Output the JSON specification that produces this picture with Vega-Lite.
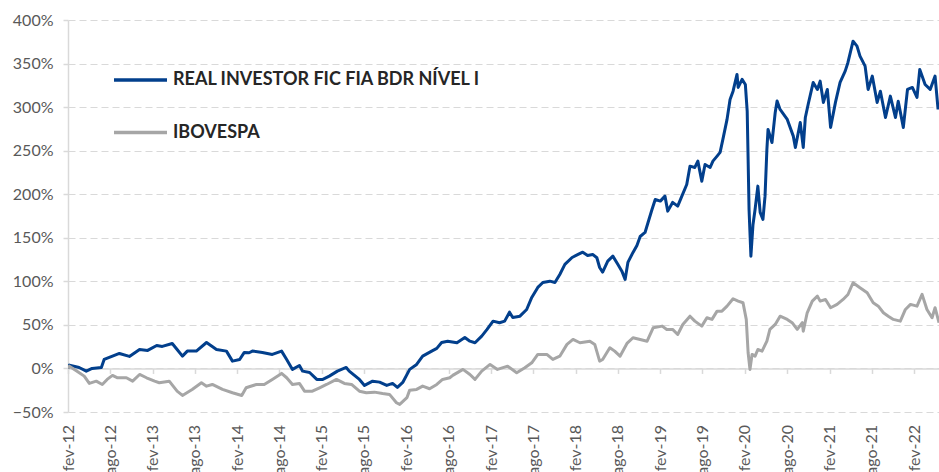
{
  "$schema": "https://vega.github.io/schema/vega-lite/v6.json",
  "width": 871,
  "height": 392,
  "autosize": "none",
  "padding": {"left": 68, "top": 20, "right": 0, "bottom": 60},
  "config": {"font": "Lato", "view": {"stroke": null}},
  "data": {"values": [
    {"d":"2012-02-01","s":"REAL INVESTOR FIC FIA BDR NÍVEL I","v":0},
    {"d":"2012-02-07","s":"REAL INVESTOR FIC FIA BDR NÍVEL I","v":0.038},
    {"d":"2012-03-20","s":"REAL INVESTOR FIC FIA BDR NÍVEL I","v":0.011},
    {"d":"2012-04-20","s":"REAL INVESTOR FIC FIA BDR NÍVEL I","v":-0.031},
    {"d":"2012-05-15","s":"REAL INVESTOR FIC FIA BDR NÍVEL I","v":0.0},
    {"d":"2012-06-24","s":"REAL INVESTOR FIC FIA BDR NÍVEL I","v":0.011},
    {"d":"2012-07-06","s":"REAL INVESTOR FIC FIA BDR NÍVEL I","v":0.103},
    {"d":"2012-08-11","s":"REAL INVESTOR FIC FIA BDR NÍVEL I","v":0.141},
    {"d":"2012-09-10","s":"REAL INVESTOR FIC FIA BDR NÍVEL I","v":0.172},
    {"d":"2012-10-23","s":"REAL INVESTOR FIC FIA BDR NÍVEL I","v":0.138},
    {"d":"2012-12-06","s":"REAL INVESTOR FIC FIA BDR NÍVEL I","v":0.218},
    {"d":"2013-01-10","s":"REAL INVESTOR FIC FIA BDR NÍVEL I","v":0.207},
    {"d":"2013-02-18","s":"REAL INVESTOR FIC FIA BDR NÍVEL I","v":0.264},
    {"d":"2013-03-14","s":"REAL INVESTOR FIC FIA BDR NÍVEL I","v":0.253},
    {"d":"2013-04-26","s":"REAL INVESTOR FIC FIA BDR NÍVEL I","v":0.287},
    {"d":"2013-05-17","s":"REAL INVESTOR FIC FIA BDR NÍVEL I","v":0.218},
    {"d":"2013-06-09","s":"REAL INVESTOR FIC FIA BDR NÍVEL I","v":0.141},
    {"d":"2013-06-30","s":"REAL INVESTOR FIC FIA BDR NÍVEL I","v":0.199},
    {"d":"2013-08-08","s":"REAL INVESTOR FIC FIA BDR NÍVEL I","v":0.199},
    {"d":"2013-09-21","s":"REAL INVESTOR FIC FIA BDR NÍVEL I","v":0.298},
    {"d":"2013-11-03","s":"REAL INVESTOR FIC FIA BDR NÍVEL I","v":0.218},
    {"d":"2013-12-16","s":"REAL INVESTOR FIC FIA BDR NÍVEL I","v":0.199},
    {"d":"2014-01-11","s":"REAL INVESTOR FIC FIA BDR NÍVEL I","v":0.084},
    {"d":"2014-02-11","s":"REAL INVESTOR FIC FIA BDR NÍVEL I","v":0.103},
    {"d":"2014-03-03","s":"REAL INVESTOR FIC FIA BDR NÍVEL I","v":0.184},
    {"d":"2014-03-24","s":"REAL INVESTOR FIC FIA BDR NÍVEL I","v":0.18},
    {"d":"2014-04-07","s":"REAL INVESTOR FIC FIA BDR NÍVEL I","v":0.199},
    {"d":"2014-05-20","s":"REAL INVESTOR FIC FIA BDR NÍVEL I","v":0.184},
    {"d":"2014-07-02","s":"REAL INVESTOR FIC FIA BDR NÍVEL I","v":0.161},
    {"d":"2014-08-11","s":"REAL INVESTOR FIC FIA BDR NÍVEL I","v":0.199},
    {"d":"2014-09-02","s":"REAL INVESTOR FIC FIA BDR NÍVEL I","v":0.103},
    {"d":"2014-09-27","s":"REAL INVESTOR FIC FIA BDR NÍVEL I","v":-0.011},
    {"d":"2014-10-27","s":"REAL INVESTOR FIC FIA BDR NÍVEL I","v":0.034},
    {"d":"2014-11-10","s":"REAL INVESTOR FIC FIA BDR NÍVEL I","v":-0.031},
    {"d":"2014-12-10","s":"REAL INVESTOR FIC FIA BDR NÍVEL I","v":-0.046},
    {"d":"2015-01-10","s":"REAL INVESTOR FIC FIA BDR NÍVEL I","v":-0.126},
    {"d":"2015-02-05","s":"REAL INVESTOR FIC FIA BDR NÍVEL I","v":-0.126},
    {"d":"2015-03-05","s":"REAL INVESTOR FIC FIA BDR NÍVEL I","v":-0.088},
    {"d":"2015-04-09","s":"REAL INVESTOR FIC FIA BDR NÍVEL I","v":-0.031},
    {"d":"2015-05-17","s":"REAL INVESTOR FIC FIA BDR NÍVEL I","v":0.011},
    {"d":"2015-05-30","s":"REAL INVESTOR FIC FIA BDR NÍVEL I","v":-0.031},
    {"d":"2015-07-13","s":"REAL INVESTOR FIC FIA BDR NÍVEL I","v":-0.126},
    {"d":"2015-08-04","s":"REAL INVESTOR FIC FIA BDR NÍVEL I","v":-0.195},
    {"d":"2015-09-08","s":"REAL INVESTOR FIC FIA BDR NÍVEL I","v":-0.146},
    {"d":"2015-10-08","s":"REAL INVESTOR FIC FIA BDR NÍVEL I","v":-0.157},
    {"d":"2015-11-08","s":"REAL INVESTOR FIC FIA BDR NÍVEL I","v":-0.195},
    {"d":"2015-12-03","s":"REAL INVESTOR FIC FIA BDR NÍVEL I","v":-0.172},
    {"d":"2015-12-24","s":"REAL INVESTOR FIC FIA BDR NÍVEL I","v":-0.218},
    {"d":"2016-01-16","s":"REAL INVESTOR FIC FIA BDR NÍVEL I","v":-0.161},
    {"d":"2016-02-15","s":"REAL INVESTOR FIC FIA BDR NÍVEL I","v":-0.011},
    {"d":"2016-03-16","s":"REAL INVESTOR FIC FIA BDR NÍVEL I","v":0.046},
    {"d":"2016-04-11","s":"REAL INVESTOR FIC FIA BDR NÍVEL I","v":0.141},
    {"d":"2016-05-20","s":"REAL INVESTOR FIC FIA BDR NÍVEL I","v":0.199},
    {"d":"2016-06-11","s":"REAL INVESTOR FIC FIA BDR NÍVEL I","v":0.23},
    {"d":"2016-07-02","s":"REAL INVESTOR FIC FIA BDR NÍVEL I","v":0.298},
    {"d":"2016-07-28","s":"REAL INVESTOR FIC FIA BDR NÍVEL I","v":0.313},
    {"d":"2016-09-06","s":"REAL INVESTOR FIC FIA BDR NÍVEL I","v":0.295},
    {"d":"2016-10-10","s":"REAL INVESTOR FIC FIA BDR NÍVEL I","v":0.356},
    {"d":"2016-11-01","s":"REAL INVESTOR FIC FIA BDR NÍVEL I","v":0.313},
    {"d":"2016-11-23","s":"REAL INVESTOR FIC FIA BDR NÍVEL I","v":0.295},
    {"d":"2016-12-22","s":"REAL INVESTOR FIC FIA BDR NÍVEL I","v":0.371},
    {"d":"2017-01-14","s":"REAL INVESTOR FIC FIA BDR NÍVEL I","v":0.448},
    {"d":"2017-02-09","s":"REAL INVESTOR FIC FIA BDR NÍVEL I","v":0.543},
    {"d":"2017-03-09","s":"REAL INVESTOR FIC FIA BDR NÍVEL I","v":0.525},
    {"d":"2017-03-31","s":"REAL INVESTOR FIC FIA BDR NÍVEL I","v":0.543},
    {"d":"2017-04-21","s":"REAL INVESTOR FIC FIA BDR NÍVEL I","v":0.646},
    {"d":"2017-05-05","s":"REAL INVESTOR FIC FIA BDR NÍVEL I","v":0.585},
    {"d":"2017-06-05","s":"REAL INVESTOR FIC FIA BDR NÍVEL I","v":0.6},
    {"d":"2017-07-04","s":"REAL INVESTOR FIC FIA BDR NÍVEL I","v":0.677},
    {"d":"2017-07-26","s":"REAL INVESTOR FIC FIA BDR NÍVEL I","v":0.815},
    {"d":"2017-08-21","s":"REAL INVESTOR FIC FIA BDR NÍVEL I","v":0.93},
    {"d":"2017-09-12","s":"REAL INVESTOR FIC FIA BDR NÍVEL I","v":0.987},
    {"d":"2017-10-12","s":"REAL INVESTOR FIC FIA BDR NÍVEL I","v":1.002},
    {"d":"2017-11-03","s":"REAL INVESTOR FIC FIA BDR NÍVEL I","v":0.987},
    {"d":"2017-11-24","s":"REAL INVESTOR FIC FIA BDR NÍVEL I","v":1.079},
    {"d":"2017-12-16","s":"REAL INVESTOR FIC FIA BDR NÍVEL I","v":1.194},
    {"d":"2018-01-16","s":"REAL INVESTOR FIC FIA BDR NÍVEL I","v":1.274},
    {"d":"2018-02-11","s":"REAL INVESTOR FIC FIA BDR NÍVEL I","v":1.309},
    {"d":"2018-03-03","s":"REAL INVESTOR FIC FIA BDR NÍVEL I","v":1.335},
    {"d":"2018-03-24","s":"REAL INVESTOR FIC FIA BDR NÍVEL I","v":1.297},
    {"d":"2018-04-15","s":"REAL INVESTOR FIC FIA BDR NÍVEL I","v":1.309},
    {"d":"2018-05-03","s":"REAL INVESTOR FIC FIA BDR NÍVEL I","v":1.271},
    {"d":"2018-05-15","s":"REAL INVESTOR FIC FIA BDR NÍVEL I","v":1.159},
    {"d":"2018-05-28","s":"REAL INVESTOR FIC FIA BDR NÍVEL I","v":1.106},
    {"d":"2018-06-19","s":"REAL INVESTOR FIC FIA BDR NÍVEL I","v":1.232},
    {"d":"2018-07-11","s":"REAL INVESTOR FIC FIA BDR NÍVEL I","v":1.289},
    {"d":"2018-08-02","s":"REAL INVESTOR FIC FIA BDR NÍVEL I","v":1.194},
    {"d":"2018-08-19","s":"REAL INVESTOR FIC FIA BDR NÍVEL I","v":1.117},
    {"d":"2018-09-02","s":"REAL INVESTOR FIC FIA BDR NÍVEL I","v":1.022},
    {"d":"2018-09-14","s":"REAL INVESTOR FIC FIA BDR NÍVEL I","v":1.217},
    {"d":"2018-10-06","s":"REAL INVESTOR FIC FIA BDR NÍVEL I","v":1.332},
    {"d":"2018-10-23","s":"REAL INVESTOR FIC FIA BDR NÍVEL I","v":1.412},
    {"d":"2018-11-06","s":"REAL INVESTOR FIC FIA BDR NÍVEL I","v":1.515},
    {"d":"2018-11-27","s":"REAL INVESTOR FIC FIA BDR NÍVEL I","v":1.561},
    {"d":"2018-12-10","s":"REAL INVESTOR FIC FIA BDR NÍVEL I","v":1.676},
    {"d":"2018-12-27","s":"REAL INVESTOR FIC FIA BDR NÍVEL I","v":1.825},
    {"d":"2019-01-10","s":"REAL INVESTOR FIC FIA BDR NÍVEL I","v":1.94},
    {"d":"2019-02-01","s":"REAL INVESTOR FIC FIA BDR NÍVEL I","v":1.921},
    {"d":"2019-02-21","s":"REAL INVESTOR FIC FIA BDR NÍVEL I","v":1.978},
    {"d":"2019-03-05","s":"REAL INVESTOR FIC FIA BDR NÍVEL I","v":1.806},
    {"d":"2019-03-26","s":"REAL INVESTOR FIC FIA BDR NÍVEL I","v":1.906},
    {"d":"2019-04-17","s":"REAL INVESTOR FIC FIA BDR NÍVEL I","v":1.863},
    {"d":"2019-05-05","s":"REAL INVESTOR FIC FIA BDR NÍVEL I","v":1.978},
    {"d":"2019-05-26","s":"REAL INVESTOR FIC FIA BDR NÍVEL I","v":2.112},
    {"d":"2019-06-09","s":"REAL INVESTOR FIC FIA BDR NÍVEL I","v":2.322},
    {"d":"2019-06-30","s":"REAL INVESTOR FIC FIA BDR NÍVEL I","v":2.307},
    {"d":"2019-07-13","s":"REAL INVESTOR FIC FIA BDR NÍVEL I","v":2.38},
    {"d":"2019-07-30","s":"REAL INVESTOR FIC FIA BDR NÍVEL I","v":2.15},
    {"d":"2019-08-13","s":"REAL INVESTOR FIC FIA BDR NÍVEL I","v":2.342},
    {"d":"2019-09-04","s":"REAL INVESTOR FIC FIA BDR NÍVEL I","v":2.307},
    {"d":"2019-09-16","s":"REAL INVESTOR FIC FIA BDR NÍVEL I","v":2.38},
    {"d":"2019-10-04","s":"REAL INVESTOR FIC FIA BDR NÍVEL I","v":2.437},
    {"d":"2019-10-17","s":"REAL INVESTOR FIC FIA BDR NÍVEL I","v":2.48},
    {"d":"2019-10-29","s":"REAL INVESTOR FIC FIA BDR NÍVEL I","v":2.629},
    {"d":"2019-11-16","s":"REAL INVESTOR FIC FIA BDR NÍVEL I","v":2.859},
    {"d":"2019-11-29","s":"REAL INVESTOR FIC FIA BDR NÍVEL I","v":3.088},
    {"d":"2019-12-12","s":"REAL INVESTOR FIC FIA BDR NÍVEL I","v":3.183},
    {"d":"2019-12-29","s":"REAL INVESTOR FIC FIA BDR NÍVEL I","v":3.375},
    {"d":"2020-01-03","s":"REAL INVESTOR FIC FIA BDR NÍVEL I","v":3.226},
    {"d":"2020-01-20","s":"REAL INVESTOR FIC FIA BDR NÍVEL I","v":3.318},
    {"d":"2020-02-03","s":"REAL INVESTOR FIC FIA BDR NÍVEL I","v":3.26},
    {"d":"2020-02-11","s":"REAL INVESTOR FIC FIA BDR NÍVEL I","v":2.954},
    {"d":"2020-02-15","s":"REAL INVESTOR FIC FIA BDR NÍVEL I","v":2.399},
    {"d":"2020-02-19","s":"REAL INVESTOR FIC FIA BDR NÍVEL I","v":1.825},
    {"d":"2020-02-27","s":"REAL INVESTOR FIC FIA BDR NÍVEL I","v":1.289},
    {"d":"2020-03-07","s":"REAL INVESTOR FIC FIA BDR NÍVEL I","v":1.65},
    {"d":"2020-03-16","s":"REAL INVESTOR FIC FIA BDR NÍVEL I","v":1.825},
    {"d":"2020-03-28","s":"REAL INVESTOR FIC FIA BDR NÍVEL I","v":2.093},
    {"d":"2020-04-07","s":"REAL INVESTOR FIC FIA BDR NÍVEL I","v":1.791},
    {"d":"2020-04-19","s":"REAL INVESTOR FIC FIA BDR NÍVEL I","v":1.711},
    {"d":"2020-04-28","s":"REAL INVESTOR FIC FIA BDR NÍVEL I","v":1.978},
    {"d":"2020-05-06","s":"REAL INVESTOR FIC FIA BDR NÍVEL I","v":2.514},
    {"d":"2020-05-11","s":"REAL INVESTOR FIC FIA BDR NÍVEL I","v":2.744},
    {"d":"2020-05-28","s":"REAL INVESTOR FIC FIA BDR NÍVEL I","v":2.594},
    {"d":"2020-06-11","s":"REAL INVESTOR FIC FIA BDR NÍVEL I","v":2.939},
    {"d":"2020-06-19","s":"REAL INVESTOR FIC FIA BDR NÍVEL I","v":3.069},
    {"d":"2020-07-02","s":"REAL INVESTOR FIC FIA BDR NÍVEL I","v":2.973},
    {"d":"2020-08-02","s":"REAL INVESTOR FIC FIA BDR NÍVEL I","v":2.859},
    {"d":"2020-08-28","s":"REAL INVESTOR FIC FIA BDR NÍVEL I","v":2.667},
    {"d":"2020-09-06","s":"REAL INVESTOR FIC FIA BDR NÍVEL I","v":2.537},
    {"d":"2020-09-27","s":"REAL INVESTOR FIC FIA BDR NÍVEL I","v":2.824},
    {"d":"2020-10-10","s":"REAL INVESTOR FIC FIA BDR NÍVEL I","v":2.537},
    {"d":"2020-10-19","s":"REAL INVESTOR FIC FIA BDR NÍVEL I","v":2.881},
    {"d":"2020-11-01","s":"REAL INVESTOR FIC FIA BDR NÍVEL I","v":3.042},
    {"d":"2020-11-22","s":"REAL INVESTOR FIC FIA BDR NÍVEL I","v":3.283},
    {"d":"2020-12-10","s":"REAL INVESTOR FIC FIA BDR NÍVEL I","v":3.203},
    {"d":"2020-12-22","s":"REAL INVESTOR FIC FIA BDR NÍVEL I","v":3.298},
    {"d":"2021-01-05","s":"REAL INVESTOR FIC FIA BDR NÍVEL I","v":3.054},
    {"d":"2021-01-22","s":"REAL INVESTOR FIC FIA BDR NÍVEL I","v":3.203},
    {"d":"2021-02-05","s":"REAL INVESTOR FIC FIA BDR NÍVEL I","v":2.767},
    {"d":"2021-02-26","s":"REAL INVESTOR FIC FIA BDR NÍVEL I","v":3.054},
    {"d":"2021-03-18","s":"REAL INVESTOR FIC FIA BDR NÍVEL I","v":3.283},
    {"d":"2021-04-09","s":"REAL INVESTOR FIC FIA BDR NÍVEL I","v":3.413},
    {"d":"2021-04-21","s":"REAL INVESTOR FIC FIA BDR NÍVEL I","v":3.513},
    {"d":"2021-05-13","s":"REAL INVESTOR FIC FIA BDR NÍVEL I","v":3.757},
    {"d":"2021-05-30","s":"REAL INVESTOR FIC FIA BDR NÍVEL I","v":3.7},
    {"d":"2021-06-12","s":"REAL INVESTOR FIC FIA BDR NÍVEL I","v":3.585},
    {"d":"2021-07-04","s":"REAL INVESTOR FIC FIA BDR NÍVEL I","v":3.47},
    {"d":"2021-07-17","s":"REAL INVESTOR FIC FIA BDR NÍVEL I","v":3.203},
    {"d":"2021-08-04","s":"REAL INVESTOR FIC FIA BDR NÍVEL I","v":3.356},
    {"d":"2021-08-25","s":"REAL INVESTOR FIC FIA BDR NÍVEL I","v":3.054},
    {"d":"2021-09-08","s":"REAL INVESTOR FIC FIA BDR NÍVEL I","v":3.183},
    {"d":"2021-09-30","s":"REAL INVESTOR FIC FIA BDR NÍVEL I","v":2.881},
    {"d":"2021-10-21","s":"REAL INVESTOR FIC FIA BDR NÍVEL I","v":3.126},
    {"d":"2021-11-12","s":"REAL INVESTOR FIC FIA BDR NÍVEL I","v":2.881},
    {"d":"2021-11-24","s":"REAL INVESTOR FIC FIA BDR NÍVEL I","v":3.068},
    {"d":"2021-12-16","s":"REAL INVESTOR FIC FIA BDR NÍVEL I","v":2.767},
    {"d":"2022-01-03","s":"REAL INVESTOR FIC FIA BDR NÍVEL I","v":3.203},
    {"d":"2022-01-24","s":"REAL INVESTOR FIC FIA BDR NÍVEL I","v":3.226},
    {"d":"2022-02-13","s":"REAL INVESTOR FIC FIA BDR NÍVEL I","v":3.111},
    {"d":"2022-02-25","s":"REAL INVESTOR FIC FIA BDR NÍVEL I","v":3.433},
    {"d":"2022-03-20","s":"REAL INVESTOR FIC FIA BDR NÍVEL I","v":3.26},
    {"d":"2022-04-11","s":"REAL INVESTOR FIC FIA BDR NÍVEL I","v":3.203},
    {"d":"2022-05-02","s":"REAL INVESTOR FIC FIA BDR NÍVEL I","v":3.356},
    {"d":"2022-05-15","s":"REAL INVESTOR FIC FIA BDR NÍVEL I","v":2.973},
    {"d":"2012-02-01","s":"IBOVESPA","v":0},
    {"d":"2012-02-07","s":"IBOVESPA","v":0.026},
    {"d":"2012-03-11","s":"IBOVESPA","v":-0.031},
    {"d":"2012-04-11","s":"IBOVESPA","v":-0.088},
    {"d":"2012-05-03","s":"IBOVESPA","v":-0.172},
    {"d":"2012-06-02","s":"IBOVESPA","v":-0.146},
    {"d":"2012-06-28","s":"IBOVESPA","v":-0.184},
    {"d":"2012-07-19","s":"IBOVESPA","v":-0.126},
    {"d":"2012-08-11","s":"IBOVESPA","v":-0.08},
    {"d":"2012-09-02","s":"IBOVESPA","v":-0.107},
    {"d":"2012-10-10","s":"IBOVESPA","v":-0.107},
    {"d":"2012-11-06","s":"IBOVESPA","v":-0.146},
    {"d":"2012-12-06","s":"IBOVESPA","v":-0.069},
    {"d":"2013-01-05","s":"IBOVESPA","v":-0.107},
    {"d":"2013-02-09","s":"IBOVESPA","v":-0.146},
    {"d":"2013-03-01","s":"IBOVESPA","v":-0.164},
    {"d":"2013-04-13","s":"IBOVESPA","v":-0.146},
    {"d":"2013-05-17","s":"IBOVESPA","v":-0.261},
    {"d":"2013-06-09","s":"IBOVESPA","v":-0.31},
    {"d":"2013-07-21","s":"IBOVESPA","v":-0.241},
    {"d":"2013-08-30","s":"IBOVESPA","v":-0.164},
    {"d":"2013-09-21","s":"IBOVESPA","v":-0.203},
    {"d":"2013-10-16","s":"IBOVESPA","v":-0.184},
    {"d":"2013-11-29","s":"IBOVESPA","v":-0.241},
    {"d":"2014-01-11","s":"IBOVESPA","v":-0.279},
    {"d":"2014-02-20","s":"IBOVESPA","v":-0.31},
    {"d":"2014-03-11","s":"IBOVESPA","v":-0.222},
    {"d":"2014-03-24","s":"IBOVESPA","v":-0.21},
    {"d":"2014-04-24","s":"IBOVESPA","v":-0.184},
    {"d":"2014-05-28","s":"IBOVESPA","v":-0.184},
    {"d":"2014-07-02","s":"IBOVESPA","v":-0.126},
    {"d":"2014-08-11","s":"IBOVESPA","v":-0.057},
    {"d":"2014-09-02","s":"IBOVESPA","v":-0.107},
    {"d":"2014-09-27","s":"IBOVESPA","v":-0.184},
    {"d":"2014-10-27","s":"IBOVESPA","v":-0.172},
    {"d":"2014-11-18","s":"IBOVESPA","v":-0.261},
    {"d":"2014-12-22","s":"IBOVESPA","v":-0.261},
    {"d":"2015-01-22","s":"IBOVESPA","v":-0.222},
    {"d":"2015-02-21","s":"IBOVESPA","v":-0.184},
    {"d":"2015-04-05","s":"IBOVESPA","v":-0.126},
    {"d":"2015-05-09","s":"IBOVESPA","v":-0.172},
    {"d":"2015-06-09","s":"IBOVESPA","v":-0.184},
    {"d":"2015-07-13","s":"IBOVESPA","v":-0.261},
    {"d":"2015-08-12","s":"IBOVESPA","v":-0.279},
    {"d":"2015-09-16","s":"IBOVESPA","v":-0.272},
    {"d":"2015-10-21","s":"IBOVESPA","v":-0.287},
    {"d":"2015-11-20","s":"IBOVESPA","v":-0.298},
    {"d":"2015-12-20","s":"IBOVESPA","v":-0.394},
    {"d":"2016-01-03","s":"IBOVESPA","v":-0.413},
    {"d":"2016-02-03","s":"IBOVESPA","v":-0.336},
    {"d":"2016-02-15","s":"IBOVESPA","v":-0.249},
    {"d":"2016-03-16","s":"IBOVESPA","v":-0.241},
    {"d":"2016-04-11","s":"IBOVESPA","v":-0.203},
    {"d":"2016-05-11","s":"IBOVESPA","v":-0.233},
    {"d":"2016-06-11","s":"IBOVESPA","v":-0.184},
    {"d":"2016-07-06","s":"IBOVESPA","v":-0.126},
    {"d":"2016-08-06","s":"IBOVESPA","v":-0.107},
    {"d":"2016-08-19","s":"IBOVESPA","v":-0.08},
    {"d":"2016-10-02","s":"IBOVESPA","v":-0.011},
    {"d":"2016-11-01","s":"IBOVESPA","v":-0.069},
    {"d":"2016-11-23","s":"IBOVESPA","v":-0.126},
    {"d":"2016-12-22","s":"IBOVESPA","v":-0.031},
    {"d":"2017-01-27","s":"IBOVESPA","v":0.046},
    {"d":"2017-02-28","s":"IBOVESPA","v":-0.011},
    {"d":"2017-04-13","s":"IBOVESPA","v":0.026},
    {"d":"2017-05-22","s":"IBOVESPA","v":-0.049},
    {"d":"2017-06-26","s":"IBOVESPA","v":0.008},
    {"d":"2017-07-26","s":"IBOVESPA","v":0.065},
    {"d":"2017-08-21","s":"IBOVESPA","v":0.161},
    {"d":"2017-09-29","s":"IBOVESPA","v":0.161},
    {"d":"2017-10-25","s":"IBOVESPA","v":0.103},
    {"d":"2017-11-24","s":"IBOVESPA","v":0.141},
    {"d":"2017-12-25","s":"IBOVESPA","v":0.276},
    {"d":"2018-01-20","s":"IBOVESPA","v":0.333},
    {"d":"2018-02-19","s":"IBOVESPA","v":0.295},
    {"d":"2018-04-03","s":"IBOVESPA","v":0.313},
    {"d":"2018-04-24","s":"IBOVESPA","v":0.276},
    {"d":"2018-05-15","s":"IBOVESPA","v":0.084},
    {"d":"2018-05-28","s":"IBOVESPA","v":0.103},
    {"d":"2018-06-28","s":"IBOVESPA","v":0.238},
    {"d":"2018-07-19","s":"IBOVESPA","v":0.199},
    {"d":"2018-08-11","s":"IBOVESPA","v":0.141},
    {"d":"2018-09-10","s":"IBOVESPA","v":0.287},
    {"d":"2018-10-06","s":"IBOVESPA","v":0.352},
    {"d":"2018-11-06","s":"IBOVESPA","v":0.333},
    {"d":"2018-12-06","s":"IBOVESPA","v":0.313},
    {"d":"2019-01-01","s":"IBOVESPA","v":0.467},
    {"d":"2019-02-09","s":"IBOVESPA","v":0.486},
    {"d":"2019-03-01","s":"IBOVESPA","v":0.448},
    {"d":"2019-03-26","s":"IBOVESPA","v":0.448},
    {"d":"2019-04-17","s":"IBOVESPA","v":0.39},
    {"d":"2019-05-09","s":"IBOVESPA","v":0.505},
    {"d":"2019-06-09","s":"IBOVESPA","v":0.6},
    {"d":"2019-06-30","s":"IBOVESPA","v":0.543},
    {"d":"2019-07-30","s":"IBOVESPA","v":0.486},
    {"d":"2019-08-21","s":"IBOVESPA","v":0.582},
    {"d":"2019-09-12","s":"IBOVESPA","v":0.563},
    {"d":"2019-10-04","s":"IBOVESPA","v":0.658},
    {"d":"2019-10-25","s":"IBOVESPA","v":0.658},
    {"d":"2019-11-16","s":"IBOVESPA","v":0.715},
    {"d":"2019-12-12","s":"IBOVESPA","v":0.8},
    {"d":"2020-01-03","s":"IBOVESPA","v":0.773},
    {"d":"2020-01-24","s":"IBOVESPA","v":0.754},
    {"d":"2020-02-07","s":"IBOVESPA","v":0.563},
    {"d":"2020-02-15","s":"IBOVESPA","v":0.18},
    {"d":"2020-02-23","s":"IBOVESPA","v":-0.011},
    {"d":"2020-03-03","s":"IBOVESPA","v":0.161},
    {"d":"2020-03-16","s":"IBOVESPA","v":0.141},
    {"d":"2020-03-28","s":"IBOVESPA","v":0.218},
    {"d":"2020-04-15","s":"IBOVESPA","v":0.199},
    {"d":"2020-05-06","s":"IBOVESPA","v":0.313},
    {"d":"2020-05-19","s":"IBOVESPA","v":0.448},
    {"d":"2020-06-11","s":"IBOVESPA","v":0.505},
    {"d":"2020-07-02","s":"IBOVESPA","v":0.6},
    {"d":"2020-08-02","s":"IBOVESPA","v":0.563},
    {"d":"2020-08-23","s":"IBOVESPA","v":0.525},
    {"d":"2020-09-14","s":"IBOVESPA","v":0.448},
    {"d":"2020-10-06","s":"IBOVESPA","v":0.525},
    {"d":"2020-10-10","s":"IBOVESPA","v":0.428},
    {"d":"2020-10-27","s":"IBOVESPA","v":0.639},
    {"d":"2020-11-18","s":"IBOVESPA","v":0.773},
    {"d":"2020-12-10","s":"IBOVESPA","v":0.83},
    {"d":"2020-12-22","s":"IBOVESPA","v":0.773},
    {"d":"2021-01-14","s":"IBOVESPA","v":0.792},
    {"d":"2021-02-05","s":"IBOVESPA","v":0.697},
    {"d":"2021-03-05","s":"IBOVESPA","v":0.735},
    {"d":"2021-03-31","s":"IBOVESPA","v":0.792},
    {"d":"2021-04-21","s":"IBOVESPA","v":0.849},
    {"d":"2021-05-13","s":"IBOVESPA","v":0.984},
    {"d":"2021-06-12","s":"IBOVESPA","v":0.926},
    {"d":"2021-07-13","s":"IBOVESPA","v":0.869},
    {"d":"2021-08-08","s":"IBOVESPA","v":0.754},
    {"d":"2021-08-30","s":"IBOVESPA","v":0.715},
    {"d":"2021-09-21","s":"IBOVESPA","v":0.639},
    {"d":"2021-10-12","s":"IBOVESPA","v":0.6},
    {"d":"2021-11-03","s":"IBOVESPA","v":0.563},
    {"d":"2021-12-03","s":"IBOVESPA","v":0.543},
    {"d":"2021-12-25","s":"IBOVESPA","v":0.677},
    {"d":"2022-01-16","s":"IBOVESPA","v":0.735},
    {"d":"2022-02-13","s":"IBOVESPA","v":0.715},
    {"d":"2022-03-07","s":"IBOVESPA","v":0.85},
    {"d":"2022-03-28","s":"IBOVESPA","v":0.677},
    {"d":"2022-04-19","s":"IBOVESPA","v":0.582},
    {"d":"2022-05-02","s":"IBOVESPA","v":0.697},
    {"d":"2022-05-19","s":"IBOVESPA","v":0.525}
  ]},
  "mark": {"type": "line", "strokeWidth": 3, "strokeJoin": "round", "clip": true},
  "encoding": {
    "x": {
      "field": "d", "type": "temporal",
      "scale": {"domain": [{"year": 2012, "month": 2, "date": 1, "utc": true}, {"year": 2022, "month": 5, "date": 19, "utc": true}]},
      "axis": {
        "title": null,
        "values": [
          {"year": 2012, "month": 2, "date": 1, "utc": true}, {"year": 2012, "month": 8, "date": 1, "utc": true},
          {"year": 2013, "month": 2, "date": 1, "utc": true}, {"year": 2013, "month": 8, "date": 1, "utc": true},
          {"year": 2014, "month": 2, "date": 1, "utc": true}, {"year": 2014, "month": 8, "date": 1, "utc": true},
          {"year": 2015, "month": 2, "date": 1, "utc": true}, {"year": 2015, "month": 8, "date": 1, "utc": true},
          {"year": 2016, "month": 2, "date": 1, "utc": true}, {"year": 2016, "month": 8, "date": 1, "utc": true},
          {"year": 2017, "month": 2, "date": 1, "utc": true}, {"year": 2017, "month": 8, "date": 1, "utc": true},
          {"year": 2018, "month": 2, "date": 1, "utc": true}, {"year": 2018, "month": 8, "date": 1, "utc": true},
          {"year": 2019, "month": 2, "date": 1, "utc": true}, {"year": 2019, "month": 8, "date": 1, "utc": true},
          {"year": 2020, "month": 2, "date": 1, "utc": true}, {"year": 2020, "month": 8, "date": 1, "utc": true},
          {"year": 2021, "month": 2, "date": 1, "utc": true}, {"year": 2021, "month": 8, "date": 1, "utc": true},
          {"year": 2022, "month": 2, "date": 1, "utc": true}
        ],
        "labelExpr": "(utcmonth(datum.value) == 1 ? 'fev' : 'ago') + '-' + utcFormat(datum.value, '%y')",
        "labelAngle": -90,
        "labelAlign": "right",
        "labelBaseline": "middle",
        "labelFont": "Lato",
        "labelFontSize": 16,
        "labelColor": "#595959",
        "labelPadding": 51,
        "labelOverlap": false,
        "offset": -43.56,
        "grid": false,
        "domainColor": "#d9d9d9",
        "domainWidth": 1.5,
        "tickColor": "#d9d9d9",
        "tickWidth": 1.5,
        "tickSize": 5
      }
    },
    "y": {
      "field": "v", "type": "quantitative",
      "scale": {"domain": [-0.5, 4], "nice": false, "zero": false},
      "axis": {
        "title": null,
        "values": [-0.5, 0, 0.5, 1, 1.5, 2, 2.5, 3, 3.5, 4],
        "format": ".0%",
        "labelFont": "Lato",
        "labelFontSize": 16,
        "labelColor": "#595959",
        "labelPadding": 10,
        "grid": true,
        "gridColor": "#d9d9d9",
        "gridDash": [7, 4],
        "gridWidth": 1,
        "domainColor": "#d9d9d9",
        "domainWidth": 1.5,
        "tickColor": "#d9d9d9",
        "tickWidth": 1.5,
        "tickSize": 5
      }
    },
    "color": {
      "field": "s", "type": "nominal",
      "scale": {"domain": ["REAL INVESTOR FIC FIA BDR NÍVEL I", "IBOVESPA"], "range": ["#023F8C", "#A6A6A6"]},
      "legend": {
        "title": null,
        "orient": "none",
        "legendX": 44,
        "legendY": 31.5,
        "padding": 0,
        "symbolType": "stroke",
        "symbolSize": 2809,
        "symbolStrokeWidth": 3.5,
        "labelFont": "Lato",
        "labelFontSize": 18,
        "labelFontWeight": "bold",
        "labelColor": "#262626",
        "labelOffset": 4,
        "labelLimit": 0,
        "rowPadding": 14.5
      }
    }
  }
}
